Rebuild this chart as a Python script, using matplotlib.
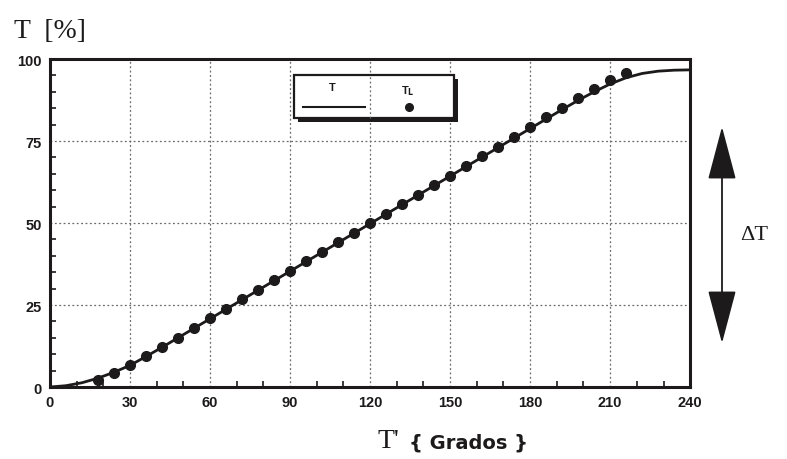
import matplotlib
matplotlib.use("Agg")
import matplotlib.pyplot as plt
from matplotlib.patches import Rectangle, FancyArrowPatch
from matplotlib.lines import Line2D
from matplotlib.ticker import MultipleLocator

# curve T (%) vs angle T' (degrees)
angle_curve = [0, 6, 12, 18, 24, 30, 36, 42, 48, 54, 60, 66, 72, 78, 84, 90,
               96, 102, 108, 114, 120, 126, 132, 138, 144, 150, 156, 162, 168,
               174, 180, 186, 192, 198, 204, 210, 216, 222, 228, 234, 240]
t_curve = [0, 0.4, 1.3, 2.7, 4.5, 6.6, 9.3, 12.1, 15.0, 17.9, 20.8, 23.7,
           26.6, 29.5, 32.4, 35.3, 38.2, 41.1, 44.0, 46.9, 49.8, 52.7, 55.6,
           58.5, 61.4, 64.3, 67.2, 70.1, 73.0, 75.9, 78.8, 81.7, 84.6, 87.4,
           90.0, 92.4, 94.3, 95.6, 96.3, 96.6, 96.7]

# measured points T_L
angle_pts = [18, 24, 30, 36, 42, 48, 54, 60, 66, 72, 78, 84, 90, 96, 102,
             108, 114, 120, 126, 132, 138, 144, 150, 156, 162, 168, 174, 180,
             186, 192, 198, 204, 210, 216]
t_pts = [2.2, 4.2, 6.8, 9.4, 12.2, 15.0, 17.9, 20.9, 23.8, 26.7, 29.6, 32.5,
         35.4, 38.3, 41.2, 44.1, 47.0, 49.9, 52.8, 55.7, 58.6, 61.5, 64.4,
         67.3, 70.3, 73.3, 76.3, 79.3, 82.3, 85.2, 88.0, 90.8, 93.5, 95.8]

x_ticks = [0, 30, 60, 90, 120, 150, 180, 210, 240]
y_ticks = [0, 25, 50, 75, 100]

ink = "#1c1a1a"
grid_col = "#6a6a6a"
sans = "Liberation Sans"
serif = "Liberation Serif"

fig = plt.figure(figsize=(7.87, 4.60), dpi=100)
ax = fig.add_axes([0.0635, 0.1565, 0.8135, 0.713])

ax.plot(angle_curve, t_curve, color=ink, lw=2.0, zorder=3)
ax.plot(angle_pts, t_pts, "o", color=ink, ms=7, zorder=4)

ax.set_xlim(0, 240)
ax.set_ylim(0, 100)
ax.set_xticks(x_ticks)
ax.set_yticks(y_ticks)
ax.xaxis.set_minor_locator(MultipleLocator(10))
ax.yaxis.set_minor_locator(MultipleLocator(5))
ax.tick_params(which="major", direction="in", length=0, pad=6,
               labelsize=10.5, colors=ink)
ax.tick_params(which="minor", direction="in", length=4, width=1.2,
               colors=ink)
for lab in ax.get_xticklabels() + ax.get_yticklabels():
    lab.set_fontfamily(sans)
    lab.set_fontweight("bold")
ax.grid(True, which="major", color=grid_col, lw=0.9, linestyle=(0, (1.5, 2)))
for s in ax.spines.values():
    s.set_linewidth(2.2)
    s.set_color(ink)

# legend box with shadow
ax.add_patch(Rectangle((92.8, 80.8), 60, 13, transform=ax.transData,
                       facecolor=ink, edgecolor="none", zorder=5,
                       clip_on=False))
ax.add_patch(Rectangle((91.5, 82), 60, 13, transform=ax.transData,
                       facecolor="white", edgecolor=ink, lw=1.6, zorder=6,
                       clip_on=False))
ax.plot([120, 120], [82, 95], color=grid_col, lw=0.9,
        linestyle=(0, (1.5, 2)), zorder=7)
ax.text(106, 91.5, "T", ha="center", va="center", fontsize=8,
        fontfamily=sans, fontweight="bold", color=ink, zorder=8)
ax.add_line(Line2D([95, 118], [85.5, 85.5], color=ink, lw=1.5, zorder=8))
ax.text(134, 90.5, "T$_{\\mathbf{L}}$", ha="center", va="center", fontsize=8,
        fontfamily=sans, fontweight="bold", color=ink, zorder=8)
ax.plot([134.5], [85.5], "o", color=ink, ms=5.5, zorder=8, clip_on=False)

# axis titles
fig.text(0.018, 0.905, "T  [%]", fontsize=20, fontfamily=serif, color=ink,
         ha="left", va="bottom")
fig.text(0.48, 0.012, "T'", fontsize=20, fontfamily=serif, color=ink,
         ha="left", va="bottom")
fig.text(0.52, 0.016, "{ Grados }", fontsize=14, fontfamily="DejaVu Sans",
         fontweight="bold", color=ink, ha="left", va="bottom")

# delta T arrow
arrow = FancyArrowPatch((722 / 787, 1 - 125 / 460), (722 / 787, 1 - 347 / 460),
                        transform=fig.transFigure,
                        arrowstyle="<|-|>,head_length=1.7,head_width=0.45",
                        mutation_scale=20, color=ink, lw=1.3)
fig.patches.append(arrow)
fig.text(0.94, 1 - 236 / 460, "\u0394T", fontsize=16, fontfamily=serif,
         color=ink, ha="left", va="center")

fig.savefig("out.png", dpi=100)
